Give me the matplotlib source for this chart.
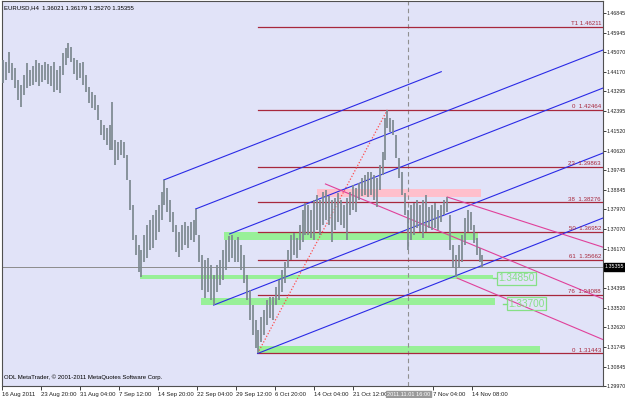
import matplotlib
matplotlib.use('Agg')
import matplotlib.pyplot as plt
import matplotlib.transforms as mtransforms
from matplotlib.patches import Rectangle

plt.rcParams['font.family'] = ['Liberation Sans', 'DejaVu Sans']

# ---------------- data ----------------
bar_x = [2, 5, 8, 11, 14, 17, 20, 23, 26, 29, 32, 35, 38, 41, 44, 47, 50, 53, 56, 59,
         62, 65, 67, 70, 73, 76, 79, 82, 85, 88, 91, 94, 97, 100, 103, 106, 109, 111, 114, 117,
         120, 123, 126, 129, 132, 135, 138, 140, 143, 146, 149, 152, 155, 158, 161, 163, 166, 169, 172, 175,
         178, 181, 184, 187, 190, 193, 195, 198, 201, 204, 207, 210, 213, 216, 219, 222, 225, 228, 231, 234,
         237, 240, 243, 246, 249, 252, 255, 257, 260, 263, 266, 269, 272, 275, 278, 281, 284, 287, 290, 293,
         296, 299, 302, 305, 308, 311, 314, 317, 320, 323, 326, 329, 332, 335, 338, 341, 344, 347, 350, 353,
         356, 359, 362, 365, 368, 371, 374, 377, 380, 383, 385, 387, 390, 393, 396, 399, 402, 405, 408, 411,
         414, 417, 420, 423, 426, 429, 432, 435, 438, 441, 444, 447, 450, 453, 456, 459, 462, 465, 468, 471,
         474, 477, 480, 482]
bar_high = [1.4472, 1.4463, 1.4508, 1.4458, 1.4436, 1.4381, 1.4359, 1.4404, 1.4458, 1.4427,
            1.4445, 1.4472, 1.4458, 1.4449, 1.4463, 1.4454, 1.4445, 1.4463, 1.4427, 1.4445,
            1.4504, 1.4526, 1.4549, 1.4531, 1.4481, 1.4472, 1.4458, 1.4463, 1.4404, 1.4350,
            1.4327, 1.4314, 1.4268, 1.4200, 1.4178, 1.4164, 1.4178, 1.4282, 1.4110, 1.4101,
            1.4110, 1.4101, 1.4042, 1.3929, 1.3816, 1.3680, 1.3635, 1.3612, 1.3680, 1.3725,
            1.3748, 1.3771, 1.3793, 1.3816, 1.3875, 1.3929, 1.3893, 1.3839, 1.3784, 1.3725,
            1.3694, 1.3725, 1.3739, 1.3721, 1.3739, 1.3748, 1.3798, 1.3680, 1.3590, 1.3567,
            1.3576, 1.3544, 1.3499, 1.3544, 1.3567, 1.3612, 1.3658, 1.3676, 1.3680, 1.3658,
            1.3671, 1.3635, 1.3590, 1.3499, 1.3431, 1.3363, 1.3296, 1.3250, 1.3309, 1.3341,
            1.3386, 1.3400, 1.3400, 1.3445, 1.3477, 1.3522, 1.3558, 1.3612, 1.3680, 1.3689,
            1.3667, 1.3725, 1.3793, 1.3825, 1.3816, 1.3793, 1.3839, 1.3861, 1.3839, 1.3875,
            1.3884, 1.3857, 1.3839, 1.3848, 1.3870, 1.3839, 1.3816, 1.3848, 1.3875, 1.3906,
            1.3893, 1.3915, 1.3938, 1.3952, 1.3965, 1.3965, 1.3952, 1.3938, 1.3997, 1.4056,
            1.4210, 1.4246, 1.4210, 1.4200, 1.4133, 1.4029, 1.3965, 1.3870, 1.3793, 1.3816,
            1.3825, 1.3839, 1.3816, 1.3839, 1.3861, 1.3807, 1.3816, 1.3825, 1.3793, 1.3816,
            1.3839, 1.3852, 1.3771, 1.3635, 1.3590, 1.3635, 1.3680, 1.3757, 1.3793, 1.3784,
            1.3725, 1.3667, 1.3621, 1.3590]
bar_low = [1.4368, 1.4381, 1.4413, 1.4381, 1.4345, 1.4291, 1.4259, 1.4314, 1.4345, 1.4354,
           1.4359, 1.4372, 1.4354, 1.4372, 1.4381, 1.4363, 1.4354, 1.4327, 1.4336, 1.4323,
           1.4404, 1.4449, 1.4481, 1.4463, 1.4409, 1.4381, 1.4390, 1.4359, 1.4327, 1.4277,
           1.4255, 1.4246, 1.4200, 1.4133, 1.4110, 1.4087, 1.4065, 1.4065, 1.3997, 1.4020,
           1.4042, 1.4029, 1.3929, 1.3793, 1.3658, 1.3590, 1.3513, 1.3490, 1.3558, 1.3576,
           1.3612, 1.3621, 1.3658, 1.3694, 1.3748, 1.3816, 1.3784, 1.3739, 1.3694, 1.3603,
           1.3581, 1.3612, 1.3635, 1.3621, 1.3658, 1.3648, 1.3680, 1.3558, 1.3431, 1.3395,
           1.3422, 1.3386, 1.3363, 1.3422, 1.3454, 1.3477, 1.3522, 1.3558, 1.3576, 1.3558,
           1.3558, 1.3522, 1.3463, 1.3386, 1.3296, 1.3228, 1.3169, 1.3146, 1.3196, 1.3228,
           1.3273, 1.3305, 1.3296, 1.3363, 1.3386, 1.3422, 1.3463, 1.3531, 1.3567, 1.3590,
           1.3576, 1.3612, 1.3648, 1.3680, 1.3680, 1.3667, 1.3658, 1.3703, 1.3680, 1.3725,
           1.3748, 1.3725, 1.3648, 1.3703, 1.3739, 1.3725, 1.3712, 1.3658, 1.3771, 1.3793,
           1.3784, 1.3839, 1.3857, 1.3861, 1.3852, 1.3861, 1.3839, 1.3807, 1.3884, 1.3952,
           1.4020, 1.4164, 1.4146, 1.4133, 1.4029, 1.3938, 1.3861, 1.3771, 1.3612, 1.3658,
           1.3680, 1.3712, 1.3694, 1.3667, 1.3694, 1.3712, 1.3703, 1.3712, 1.3703, 1.3739,
           1.3771, 1.3784, 1.3612, 1.3531, 1.3490, 1.3531, 1.3558, 1.3635, 1.3694, 1.3703,
           1.3644, 1.3590, 1.3558, 1.3535]

price_ticks = [1.46845, 1.45945, 1.45070, 1.44170, 1.43295, 1.42395, 1.41520, 1.40620,
               1.39745, 1.38845, 1.37970, 1.37070, 1.36170, 1.34395, 1.33520, 1.32620,
               1.31745, 1.30845, 1.29970]
time_tick_pos = [1, 40, 79, 118, 157, 196, 235, 274, 314, 353, 433, 472]
time_tick_labels = ['16 Aug 2011', '23 Aug 20:00', '31 Aug 04:00', '7 Sep 12:00', '14 Sep 20:00',
                    '22 Sep 04:00', '29 Sep 12:00', '6 Oct 20:00', '14 Oct 04:00', '21 Oct 12:00',
                    '7 Nov 04:00', '14 Nov 08:00']
cursor_pos = 408
cursor_label = '2011.11.01 16:00'

current_price = 1.35355
header = 'EURUSD,H4  1.36021 1.36179 1.35270 1.35355'
footer = 'ODL MetaTrader, \u00a9 2001-2011 MetaQuotes Software Corp.'

fib_start = 257
fib_levels = [1.46211, 1.42464, 1.39863, 1.38276, 1.36952, 1.35662, 1.34088, 1.31443]
fib_labels = ['T1 1.46211', '0  1.42464', '23  1.39863', '38  1.38276', '50  1.36952',
              '61  1.35662', '76  1.34088', '0  1.31443']
fib_trend_x = [257, 387]
fib_trend_y = [1.31443, 1.42464]

# blue channel lines: (x0, p0, x1, p1)
blue_lines = [(163, 1.3929, 441, 1.4419),
              (195, 1.3798, 603, 1.4517),
              (229, 1.3685, 603, 1.4345),
              (213, 1.3363, 603, 1.4051),
              (257, 1.3144, 603, 1.3757)]
# pink lines
pink_lines = [(325, 1.3911, 603, 1.3391),
              (447, 1.3852, 603, 1.3625),
              (457, 1.3485, 603, 1.3207)]
# zones: (x0, x1, p_low, p_high)
green_zones = [(139, 493, 1.3481, 1.3499),
               (200, 495, 1.3363, 1.3395),
               (223, 478, 1.3658, 1.3694),
               (257, 540, 1.3146, 1.3178)]
pink_zones = [(317, 481, 1.3852, 1.3888)]
zone_tags = [(497, 1.3485, '1.34850'), (507, 1.3370, '1.33700')]

# ---------------- figure ----------------
W, H = 625, 398
fig = plt.figure(figsize=(W / 100, H / 100), dpi=100)
fig.patch.set_facecolor('white')
ax = fig.add_axes([2 / W, 12 / H, 601 / W, 385 / H])
ax.set_xlim(2, 603)
ax.set_ylim(1.2997, 1.47388)
ax.set_facecolor('#e1e3f8')

for s in ax.spines.values():
    s.set_color('#505050')
    s.set_linewidth(0.8)

# zones
for x0, x1, lo, hi in green_zones:
    ax.add_patch(Rectangle((x0, lo), x1 - x0, hi - lo, facecolor='#98f098',
                           edgecolor='none', zorder=1))
for x0, x1, lo, hi in pink_zones:
    ax.add_patch(Rectangle((x0, lo), x1 - x0, hi - lo, facecolor='#ffbfcc',
                           edgecolor='none', zorder=1))

# current price line and cursor
ax.axhline(current_price, color='#8c8c8c', lw=0.7, zorder=2)
ax.axvline(cursor_pos, color='#909090', lw=0.8, ls=(0, (4, 3)), zorder=2)

# fib
for lvl, lab in zip(fib_levels, fib_labels):
    ax.plot([fib_start, 603], [lvl, lvl], color='#a8283c', lw=0.9, zorder=3)
    ax.text(601, lvl + 0.0004, lab, ha='right', va='bottom', fontsize=4.4,
            color='#a8283c', zorder=6)
ax.plot(fib_trend_x, fib_trend_y, color='#ff4c4c', lw=0.9, ls=(0, (1, 1.5)), zorder=3)

# channels
for x0, p0, x1, p1 in blue_lines:
    ax.plot([x0, x1], [p0, p1], color='#2a2ae6', lw=0.8, zorder=4)
for x0, p0, x1, p1 in pink_lines:
    ax.plot([x0, x1], [p0, p1], color='#e0409a', lw=0.8, zorder=4)

# price bars
ax.vlines(bar_x, bar_low, bar_high, color='#7c8990', lw=1.25, zorder=5)

# zone tags
for xt, pt, lab in zone_tags:
    ax.plot([xt - 4, xt], [pt, pt], color='#7ee07e', lw=1.0, zorder=6)
    ax.text(xt + 1, pt, lab, ha='left', va='center', fontsize=7.2, color='#86e086',
            bbox=dict(boxstyle='square,pad=0.15', fc='none', ec='#86e086', lw=0.9), zorder=6)

# axes ticks
ax.yaxis.tick_right()
ax.set_yticks(price_ticks)
ax.set_yticklabels([f'{p:.5f}' for p in price_ticks])
ax.tick_params(axis='y', direction='out', length=2, width=0.6, labelsize=3.75, pad=0.6,
               colors='#202020')
ax.set_xticks(time_tick_pos)
ax.set_xticklabels(time_tick_labels)
ax.tick_params(axis='x', direction='out', length=3, width=0.6, labelsize=4.3, pad=1.5,
               colors='#202020')
for t in ax.get_xticklabels():
    t.set_ha('left')

blend = mtransforms.blended_transform_factory(ax.transAxes, ax.transData)
ax.text(1.003, current_price, f'{current_price:.5f}', transform=blend, ha='left', va='center',
        fontsize=3.75, color='white',
        bbox=dict(boxstyle='square,pad=0.25', fc='black', ec='black'), clip_on=False, zorder=10)
blendx = mtransforms.blended_transform_factory(ax.transData, ax.transAxes)
ax.text(cursor_pos + 0.5, -0.021, cursor_label, transform=blendx, ha='center', va='center',
        fontsize=4.1, color='white',
        bbox=dict(boxstyle='square,pad=0.15', fc='#9a9a9a', ec='#9a9a9a'), clip_on=False, zorder=10)

ax.text(0.004, 0.982, header, transform=ax.transAxes, ha='left', va='center', fontsize=4.3,
        color='black', zorder=10)
ax.text(0.004, 0.022, footer, transform=ax.transAxes, ha='left', va='center', fontsize=4.3,
        color='black', zorder=10)

fig.savefig('out.png', dpi=100, facecolor='white')
